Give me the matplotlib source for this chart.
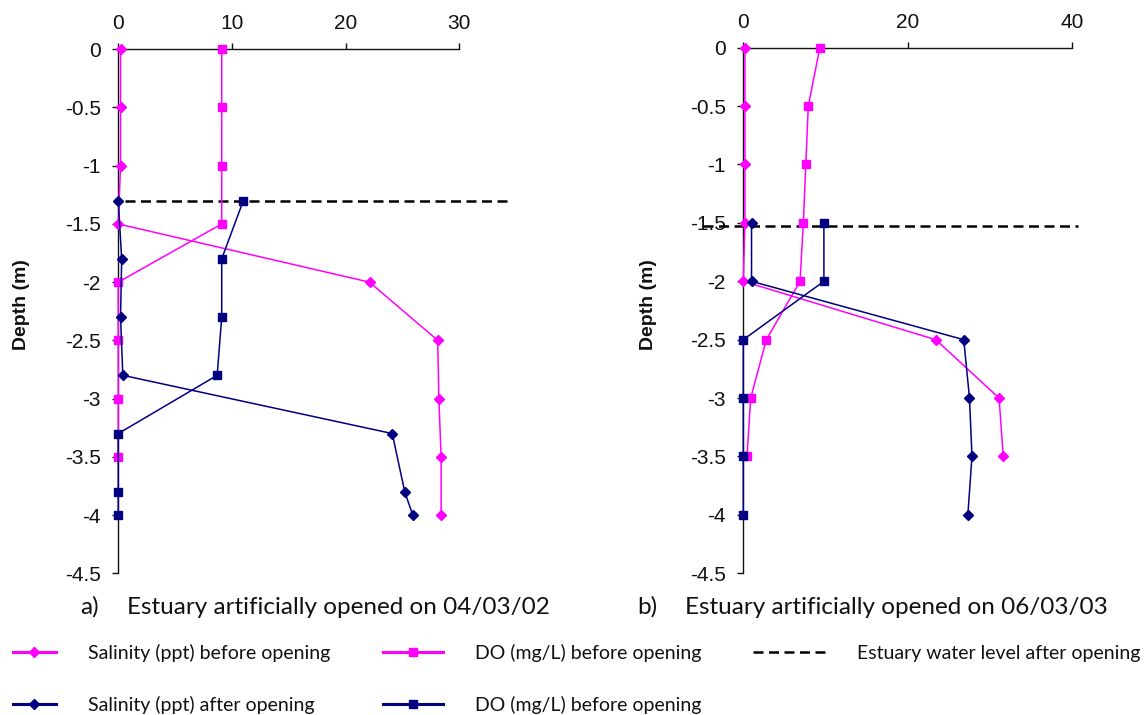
import matplotlib
matplotlib.use("Agg")
import matplotlib.pyplot as plt

plt.rcParams["axes.unicode_minus"] = False

MAGENTA = "#FF00FF"
NAVY = "#000080"

# ---- a) estuary opened on 04/03/02 ----
a_depth_before = [0, -0.5, -1, -1.5, -2, -2.5, -3, -3.5, -4]
a_sal_before = [0.2, 0.2, 0.2, 0.0, 22.1, 28.1, 28.2, 28.4, 28.4]
a_do_depth_before = [0, -0.5, -1, -1.5, -2, -2.5, -3, -3.5]
a_do_before = [9.1, 9.1, 9.1, 9.1, 0.0, 0.0, 0.0, 0.0]
a_depth_after = [-1.3, -1.8, -2.3, -2.8, -3.3, -3.8, -4.0]
a_sal_after = [0.0, 0.3, 0.2, 0.4, 24.1, 25.2, 25.9]
a_do_after = [11.0, 9.1, 9.1, 8.7, 0.0, 0.0, 0.0]
a_water_level = -1.3
a_xticks = [0, 10, 20, 30]

# ---- b) estuary opened on 06/03/03 ----
b_depth_before = [0, -0.5, -1, -1.5, -2, -2.5, -3, -3.5]
b_sal_before = [0.2, 0.2, 0.2, 0.2, 0.0, 23.4, 31.1, 31.6]
b_do_before = [9.3, 7.9, 7.6, 7.3, 6.9, 2.8, 0.9, 0.45]
b_depth_after = [-1.5, -2, -2.5, -3, -3.5, -4]
b_sal_after = [1.0, 1.0, 26.8, 27.5, 27.8, 27.3]
b_do_after = [9.8, 9.8, 0.0, 0.0, 0.0, 0.0]
b_water_level = -1.53
b_xticks = [0, 20, 40]

depth_ticks = [0, -0.5, -1, -1.5, -2, -2.5, -3, -3.5, -4, -4.5]
depth_labels = ["0", "-0.5", "-1", "-1.5", "-2", "-2.5", "-3", "-3.5", "-4", "-4.5"]

labels = [
    "Salinity (ppt) before opening",
    "DO (mg/L) before opening",
    "Estuary water level after opening",
    "Salinity (ppt) after opening",
    "DO (mg/L) before opening",
]

TICK_FONT = "Liberation Sans"
TEXT_FONT = "Lato"
INK = "#111111"

W, H = 1146, 715
fig = plt.figure(figsize=(W / 100, H / 100), dpi=100)
ax_a = fig.add_axes([0.1032, 0.1982, 0.2976, 0.7329])
ax_b = fig.add_axes([0.6486, 0.1982, 0.2871, 0.7351])


def style_axes(ax, xmax, xticks, label_offset_px):
    ax.set_xlim(0, xmax)
    ax.set_ylim(-4.5, 0)
    ax.xaxis.tick_top()
    ax.set_xticks(xticks)
    ax.set_xticklabels([str(t) for t in xticks])
    ax.set_yticks(depth_ticks)
    ax.set_yticklabels(depth_labels)
    for side in ("bottom", "right"):
        ax.spines[side].set_visible(False)
    for side in ("top", "left"):
        ax.spines[side].set_linewidth(1.0)
        ax.spines[side].set_color(INK)
        ax.spines[side].set_zorder(1)
    ax.tick_params(axis="both", direction="out", length=4.5, width=1.0,
                   color=INK, labelsize=15, labelcolor=INK)
    ax.tick_params(axis="x", pad=7)
    ax.tick_params(axis="y", pad=8)
    for lab in ax.get_xticklabels() + ax.get_yticklabels():
        lab.set_fontfamily(TICK_FONT)
    ax.set_ylabel("Depth (m)", fontsize=14, fontweight="bold",
                  fontfamily=TICK_FONT, color=INK)
    width_px = ax.get_position().width * W
    ax.yaxis.set_label_coords(-label_offset_px / width_px, 0.512)
    ax.patch.set_alpha(0)


def draw_panel(ax, depth_b, sal_b, do_depth_b, do_b, depth_a, sal_a, do_a,
               water, wl_x):
    kw = dict(lw=1.1, clip_on=False, zorder=3)
    h1, = ax.plot(sal_b, depth_b, color=MAGENTA, marker="D", ms=5,
                  label=labels[0], **kw)
    h2, = ax.plot(do_b, do_depth_b, color=MAGENTA, marker="s", ms=6,
                  label=labels[1], **kw)
    h4, = ax.plot(sal_a, depth_a, color=NAVY, marker="D", ms=5,
                  label=labels[3], **kw)
    h5, = ax.plot(do_a, depth_a, color=NAVY, marker="s", ms=6,
                  label=labels[4], **kw)
    h3, = ax.plot(wl_x, [water, water], color="black", lw=1.8,
                  linestyle=(0, (4.0, 2.2)), clip_on=False, zorder=2,
                  label=labels[2])
    return h1, h2, h3, h4, h5


handles = draw_panel(ax_a, a_depth_before, a_sal_before, a_do_depth_before,
                     a_do_before, a_depth_after, a_sal_after, a_do_after,
                     a_water_level, [0.6, 34.4])
draw_panel(ax_b, b_depth_before, b_sal_before, b_depth_before, b_do_before,
           b_depth_after, b_sal_after, b_do_after, b_water_level, [-4.9, 40.7])

style_axes(ax_a, 30, a_xticks, 88)
style_axes(ax_b, 40, b_xticks, 86)

# panel captions
cap_y = 1 - 607 / H
cap_kw = dict(fontsize=17.5, fontfamily=TEXT_FONT, ha="left", va="center",
              color=INK)
fig.text(80 / W, cap_y, "a)", **cap_kw)
fig.text(127 / W, cap_y, "Estuary artificially opened on 04/03/02", **cap_kw)
fig.text(637 / W, cap_y, "b)", **cap_kw)
fig.text(685 / W, cap_y, "Estuary artificially opened on 06/03/03", **cap_kw)

# legend in three columns
h1, h2, h3, h4, h5 = handles
leg_y = 1 - 679 / H
fs = 14
common = dict(loc="center left", frameon=False, borderpad=0,
              borderaxespad=0, numpoints=1, labelspacing=1.72,
              prop={"family": TEXT_FONT, "size": fs})
leg1 = fig.legend([h1, h4], [labels[0], labels[3]],
                  bbox_to_anchor=(13 / W, leg_y), handlelength=2.21,
                  handletextpad=1.65, **common)
leg2 = fig.legend([h2, h5], [labels[1], labels[4]],
                  bbox_to_anchor=(383 / W, leg_y), handlelength=3.09,
                  handletextpad=1.65, **common)
leg3 = fig.legend([h3], [labels[2]],
                  bbox_to_anchor=(753 / W, 1 - 653 / H),
                  handlelength=3.96, handletextpad=1.39, **common)
for leg in (leg1, leg2):
    for t in leg.get_texts():
        t.set_color(INK)
    for lh in leg.legend_handles:
        lh.set_linewidth(2.2)
for t in leg3.get_texts():
    t.set_color(INK)

fig.savefig("out.png", dpi=100)
